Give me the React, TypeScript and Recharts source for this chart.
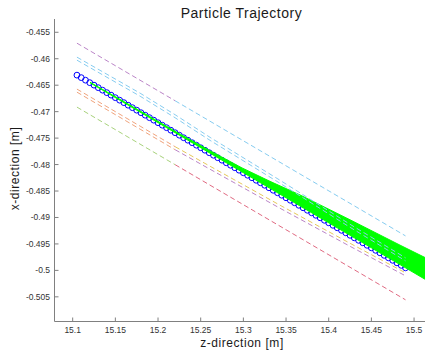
import React from 'react';
import { ComposedChart, Line, Area, XAxis, YAxis } from 'recharts';

const zTicks = [15.1, 15.15, 15.2, 15.25, 15.3, 15.35, 15.4, 15.45, 15.5];
const xTicks = [-0.455, -0.46, -0.465, -0.47, -0.475, -0.48, -0.485, -0.49, -0.495, -0.5, -0.505];

// particle positions (blue circles)
const trajZ = [
  15.105, 15.11, 15.115, 15.12, 15.125, 15.13, 15.135, 15.14, 15.145, 15.15,
  15.155, 15.16, 15.165, 15.17, 15.175, 15.18, 15.185, 15.19, 15.195, 15.2,
  15.205, 15.21, 15.215, 15.22, 15.225, 15.23, 15.235, 15.24, 15.245, 15.25,
  15.255, 15.26, 15.265, 15.27, 15.275, 15.28, 15.285, 15.29, 15.295, 15.3,
  15.305, 15.31, 15.315, 15.32, 15.325, 15.33, 15.335, 15.34, 15.345, 15.35,
  15.355, 15.36, 15.365, 15.37, 15.375, 15.38, 15.385, 15.39, 15.395, 15.4,
  15.405, 15.41, 15.415, 15.42, 15.425, 15.43, 15.435, 15.44, 15.445, 15.45,
  15.455, 15.46, 15.465, 15.47, 15.475, 15.48, 15.485, 15.49,
];
const trajX = [
  -0.4631, -0.46357, -0.46405, -0.46452, -0.46499, -0.46547, -0.46594, -0.46641, -0.46688, -0.46736,
  -0.46783, -0.4683, -0.46878, -0.46925, -0.46972, -0.4702, -0.47067, -0.47114, -0.47161, -0.47209,
  -0.47256, -0.47303, -0.47351, -0.47398, -0.47445, -0.47493, -0.4754, -0.47587, -0.47634, -0.47682,
  -0.47729, -0.47776, -0.47824, -0.47871, -0.47918, -0.47966, -0.48013, -0.4806, -0.48107, -0.48155,
  -0.48202, -0.48249, -0.48297, -0.48344, -0.48391, -0.48439, -0.48486, -0.48533, -0.4858, -0.48628,
  -0.48675, -0.48722, -0.4877, -0.48817, -0.48864, -0.48912, -0.48959, -0.49006, -0.49053, -0.49101,
  -0.49148, -0.49195, -0.49243, -0.4929, -0.49337, -0.49385, -0.49432, -0.49479, -0.49526, -0.49574,
  -0.49621, -0.49668, -0.49716, -0.49763, -0.4981, -0.49858, -0.49905, -0.49952,
];

// green spreading band
const bandZ = [15.1203, 15.1554, 15.2257, 15.2609, 15.2984, 15.3312, 15.3664, 15.425, 15.4836, 15.5167];
const bandLow = [-0.46454, -0.46786, -0.47451, -0.47784, -0.48139, -0.48449, -0.48782, -0.49337, -0.49891, -0.50204];
const bandHigh = [-0.46444, -0.46767, -0.47423, -0.47737, -0.48063, -0.48317, -0.48574, -0.49044, -0.49523, -0.49788];

// dashed envelope lines
const nodeZ = [15.105, 15.179, 15.22, 15.261, 15.343, 15.425, 15.49];
const upperA = [-0.4597, -0.46651, -0.47058, -0.47486, -0.48297, -0.49129, -0.49763];
const upperB = [-0.46027, -0.46708, -0.47115, -0.47543, -0.48354, -0.49186, -0.4982];
const lowerA = [-0.46574, -0.47274, -0.47662, -0.48032, -0.48769, -0.49488, -0.50046];
const lowerB = [-0.46631, -0.47331, -0.47719, -0.48089, -0.48826, -0.49545, -0.50103];
const outerZ = [15.105, 15.22, 15.49];
const outerTop = [-0.45706, -0.46794, -0.49348];
const outerBottom = [-0.46914, -0.48002, -0.50556];

const C = {
  purple: '#bb85c8',
  cyan: '#86ccf0',
  orange: '#f0a37c',
  green: '#a8d27c',
  red: '#e06a82',
  yellow: '#e6c85a',
};

const seg = (zs: number[], xs: number[], from: number, to: number) =>
  zs.slice(from, to + 1).map((z, i) => ({ z, v: xs[from + i] }));

const trajData = trajZ.map((z, i) => ({ z, v: trajX[i] }));
const bandData = bandZ.map((z, i) => ({ z, band: [bandLow[i], bandHigh[i]] }));

const dashed = [
  { data: seg(outerZ, outerTop, 0, 1), color: C.purple },
  { data: seg(outerZ, outerTop, 1, 2), color: C.cyan },
  { data: seg(outerZ, outerBottom, 0, 1), color: C.green },
  { data: seg(outerZ, outerBottom, 1, 2), color: C.red },
  { data: seg(nodeZ, upperA, 0, 6), color: C.cyan },
  { data: seg(nodeZ, upperB, 0, 6), color: C.cyan },
  { data: seg(nodeZ, lowerA, 0, 2), color: C.orange },
  { data: seg(nodeZ, lowerB, 0, 2), color: C.orange },
  { data: seg(nodeZ, lowerA, 2, 6), color: C.yellow },
  { data: seg(nodeZ, lowerB, 2, 6), color: C.purple },
];

const font = '"Liberation Sans", Arial, Helvetica, sans-serif';
const tickStyle = { fontSize: 8.5, fill: '#333', fontFamily: font };

export default function App() {
  return (
    <div style={{ position: 'absolute', left: 0, top: 0, width: 425, height: 353, overflow: 'hidden', background: '#fff' }}>
      <ComposedChart width={430} height={353} margin={{ top: 19, right: 1.7, bottom: 0, left: 0 }}>
        <XAxis
          type="number"
          dataKey="z"
          domain={[15.0787, 15.5167]}
          ticks={zTicks}
          interval={0}
          allowDataOverflow
          height={31.5}
          tickSize={-4}
          tickMargin={9.2}
          axisLine={{ stroke: '#808080' }}
          tickLine={{ stroke: '#808080' }}
          tick={tickStyle}
        />
        <YAxis
          type="number"
          domain={[-0.50966, -0.45249]}
          ticks={xTicks}
          interval={0}
          allowDataOverflow
          width={54.5}
          tickSize={-4}
          tickMargin={8.5}
          axisLine={{ stroke: '#808080' }}
          tickLine={{ stroke: '#808080' }}
          tick={tickStyle}
        />
        <Line
          data={trajData}
          dataKey="v"
          stroke="none"
          isAnimationActive={false}
          zIndex={100}
          dot={(p: any) => (
            <circle key={`c${p.index}`} cx={p.cx} cy={p.cy} r={2.9} fill="none" stroke="#0000ff" strokeWidth={1} />
          )}
        />
        <Area
          data={bandData}
          dataKey="band"
          type="linear"
          stroke="#00ff00"
          strokeWidth={1}
          fill="#00ff00"
          fillOpacity={1}
          isAnimationActive={false}
          zIndex={700}
        />
        {dashed.map((d, i) => (
          <Line
            key={i}
            data={d.data}
            dataKey="v"
            type="linear"
            stroke={d.color}
            strokeWidth={1}
            strokeDasharray="5 3"
            dot={false}
            isAnimationActive={false}
            zIndex={800}
          />
        ))}
      </ComposedChart>
      <svg width={425} height={353} style={{ position: 'absolute', left: 0, top: 0, pointerEvents: 'none' }}>
        <text x={241.4} y={18.3} textAnchor="middle" fontSize={14} letterSpacing={0.5} fill="#1a1a1a" fontFamily={font}>
          Particle Trajectory
        </text>
        <text x={242} y={346.5} textAnchor="middle" fontSize={12} letterSpacing={0.55} fill="#1a1a1a" fontFamily={font}>
          z-direction [m]
        </text>
        <text transform="translate(18.5,168.5) rotate(-90)" textAnchor="middle" fontSize={12} letterSpacing={0.55} fill="#1a1a1a" fontFamily={font}>
          x-direction [m]
        </text>
      </svg>
    </div>
  );
}
